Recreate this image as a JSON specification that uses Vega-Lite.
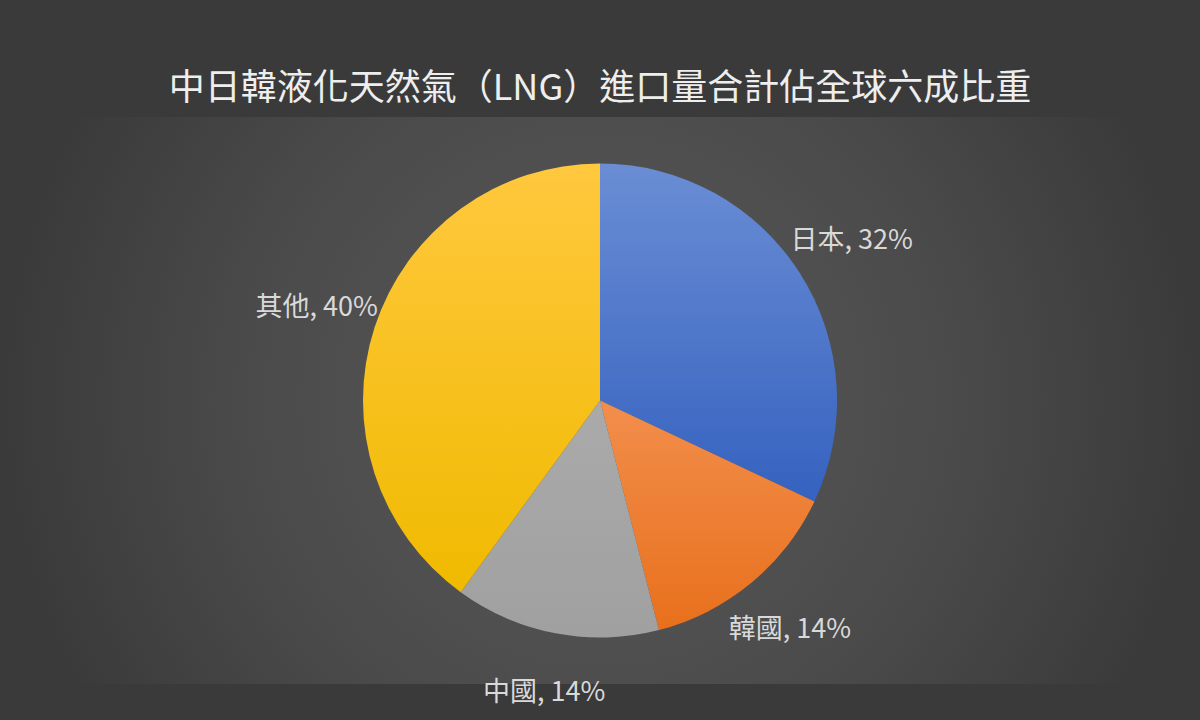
{
  "$schema": "https://vega.github.io/schema/vega-lite/v6.json",
  "width": 1200,
  "height": 720,
  "autosize": {"type": "fit", "contains": "padding"},
  "padding": {"top": 71, "bottom": 36, "left": 0, "right": 0},
  "background": "#3a3a3a",
  "title": {
    "text": "中日韓液化天然氣（LNG）進口量合計佔全球六成比重",
    "font": "Noto Sans CJK TC",
    "fontSize": 36,
    "fontWeight": "normal",
    "color": "#eeeeee",
    "anchor": "middle",
    "offset": 9
  },
  "config": {"view": {"stroke": null}},
  "layer": [
    {
      "data": {"values": [{"bg": 1}]},
      "mark": {
        "type": "rect",
        "fill": {
          "gradient": "radial",
          "x1": 0.5, "y1": 0.5, "r1": 0,
          "x2": 0.5, "y2": 0.5, "r2": 0.5,
          "stops": [
            {"offset": 0, "color": "#5a5a5a"},
            {"offset": 0.6, "color": "#4a4a4a"},
            {"offset": 1, "color": "#3a3a3a"}
          ]
        }
      }
    },
    {
      "data": {
        "values": [
          {"name": "日本", "share": 32, "order": 1, "label": "日本, 32%"},
          {"name": "韓國", "share": 14, "order": 2, "label": "韓國, 14%"},
          {"name": "中國", "share": 14, "order": 3, "label": "中國, 14%"},
          {"name": "其他", "share": 40, "order": 4, "label": "其他, 40%"}
        ]
      },
      "encoding": {
        "theta": {"field": "share", "type": "quantitative", "stack": true},
        "order": {"field": "order", "type": "quantitative"}
      },
      "layer": [
        {
          "mark": {"type": "arc", "outerRadius": 237},
          "encoding": {
            "fill": {
              "condition": [
                {
                  "test": "datum.name === '日本'",
                  "value": {
                    "gradient": "linear", "x1": 0, "y1": 0, "x2": 0, "y2": 1,
                    "stops": [
                      {"offset": 0, "color": "#6a8dd4"},
                      {"offset": 1, "color": "#3562c0"}
                    ]
                  }
                },
                {
                  "test": "datum.name === '韓國'",
                  "value": {
                    "gradient": "linear", "x1": 0, "y1": 0, "x2": 0, "y2": 1,
                    "stops": [
                      {"offset": 0, "color": "#f28e4c"},
                      {"offset": 1, "color": "#e8701c"}
                    ]
                  }
                },
                {
                  "test": "datum.name === '中國'",
                  "value": {
                    "gradient": "linear", "x1": 0, "y1": 0, "x2": 0, "y2": 1,
                    "stops": [
                      {"offset": 0, "color": "#aaaaaa"},
                      {"offset": 1, "color": "#a0a0a0"}
                    ]
                  }
                }
              ],
              "value": {
                "gradient": "linear", "x1": 0, "y1": 0, "x2": 0, "y2": 1,
                "stops": [
                  {"offset": 0, "color": "#ffc83e"},
                  {"offset": 1, "color": "#f0ba00"}
                ]
              }
            }
          }
        },
        {
          "mark": {
            "type": "text",
            "radius": 298,
            "font": "Noto Sans CJK TC",
            "fontSize": 27,
            "color": "#d9d9d9"
          },
          "encoding": {
            "text": {"field": "label", "type": "nominal"}
          }
        }
      ]
    }
  ]
}
